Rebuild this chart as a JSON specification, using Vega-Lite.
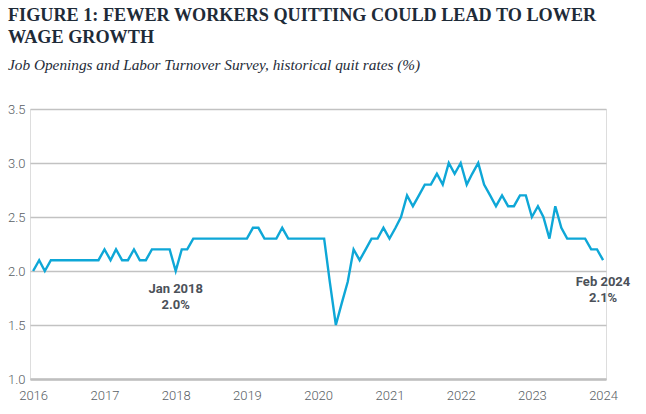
{
  "$schema": "https://vega.github.io/schema/vega-lite/v6.json",
  "width": 576,
  "height": 270,
  "autosize": "none",
  "padding": {"left": 30, "top": 109, "right": 40, "bottom": 35},
  "background": "white",
  "title": {
    "text": ["FIGURE 1: FEWER WORKERS QUITTING COULD LEAD TO LOWER", "WAGE GROWTH"],
    "subtitle": "Job Openings and Labor Turnover Survey, historical quit rates (%)",
    "anchor": "start",
    "frame": "group",
    "dx": -22,
    "offset": 29,
    "font": "Liberation Serif",
    "fontSize": 18.2,
    "fontWeight": "bold",
    "lineHeight": 21.5,
    "color": "#1e2b38",
    "subtitleFont": "Liberation Serif",
    "subtitleFontSize": 15.3,
    "subtitleFontStyle": "italic",
    "subtitleColor": "#1e2b38",
    "subtitlePadding": 11
  },
  "datasets": {
    "quits": [
      {"date": "2016-01-01", "rate": 2.0}, {"date": "2016-02-01", "rate": 2.1}, {"date": "2016-03-01", "rate": 2.0},
      {"date": "2016-04-01", "rate": 2.1}, {"date": "2016-05-01", "rate": 2.1}, {"date": "2016-06-01", "rate": 2.1},
      {"date": "2016-07-01", "rate": 2.1}, {"date": "2016-08-01", "rate": 2.1}, {"date": "2016-09-01", "rate": 2.1},
      {"date": "2016-10-01", "rate": 2.1}, {"date": "2016-11-01", "rate": 2.1}, {"date": "2016-12-01", "rate": 2.1},
      {"date": "2017-01-01", "rate": 2.2}, {"date": "2017-02-01", "rate": 2.1}, {"date": "2017-03-01", "rate": 2.2},
      {"date": "2017-04-01", "rate": 2.1}, {"date": "2017-05-01", "rate": 2.1}, {"date": "2017-06-01", "rate": 2.2},
      {"date": "2017-07-01", "rate": 2.1}, {"date": "2017-08-01", "rate": 2.1}, {"date": "2017-09-01", "rate": 2.2},
      {"date": "2017-10-01", "rate": 2.2}, {"date": "2017-11-01", "rate": 2.2}, {"date": "2017-12-01", "rate": 2.2},
      {"date": "2018-01-01", "rate": 2.0}, {"date": "2018-02-01", "rate": 2.2}, {"date": "2018-03-01", "rate": 2.2},
      {"date": "2018-04-01", "rate": 2.3}, {"date": "2018-05-01", "rate": 2.3}, {"date": "2018-06-01", "rate": 2.3},
      {"date": "2018-07-01", "rate": 2.3}, {"date": "2018-08-01", "rate": 2.3}, {"date": "2018-09-01", "rate": 2.3},
      {"date": "2018-10-01", "rate": 2.3}, {"date": "2018-11-01", "rate": 2.3}, {"date": "2018-12-01", "rate": 2.3},
      {"date": "2019-01-01", "rate": 2.3}, {"date": "2019-02-01", "rate": 2.4}, {"date": "2019-03-01", "rate": 2.4},
      {"date": "2019-04-01", "rate": 2.3}, {"date": "2019-05-01", "rate": 2.3}, {"date": "2019-06-01", "rate": 2.3},
      {"date": "2019-07-01", "rate": 2.4}, {"date": "2019-08-01", "rate": 2.3}, {"date": "2019-09-01", "rate": 2.3},
      {"date": "2019-10-01", "rate": 2.3}, {"date": "2019-11-01", "rate": 2.3}, {"date": "2019-12-01", "rate": 2.3},
      {"date": "2020-01-01", "rate": 2.3}, {"date": "2020-02-01", "rate": 2.3}, {"date": "2020-03-01", "rate": 1.9},
      {"date": "2020-04-01", "rate": 1.5}, {"date": "2020-05-01", "rate": 1.7}, {"date": "2020-06-01", "rate": 1.9},
      {"date": "2020-07-01", "rate": 2.2}, {"date": "2020-08-01", "rate": 2.1}, {"date": "2020-09-01", "rate": 2.2},
      {"date": "2020-10-01", "rate": 2.3}, {"date": "2020-11-01", "rate": 2.3}, {"date": "2020-12-01", "rate": 2.4},
      {"date": "2021-01-01", "rate": 2.3}, {"date": "2021-02-01", "rate": 2.4}, {"date": "2021-03-01", "rate": 2.5},
      {"date": "2021-04-01", "rate": 2.7}, {"date": "2021-05-01", "rate": 2.6}, {"date": "2021-06-01", "rate": 2.7},
      {"date": "2021-07-01", "rate": 2.8}, {"date": "2021-08-01", "rate": 2.8}, {"date": "2021-09-01", "rate": 2.9},
      {"date": "2021-10-01", "rate": 2.8}, {"date": "2021-11-01", "rate": 3.0}, {"date": "2021-12-01", "rate": 2.9},
      {"date": "2022-01-01", "rate": 3.0}, {"date": "2022-02-01", "rate": 2.8}, {"date": "2022-03-01", "rate": 2.9},
      {"date": "2022-04-01", "rate": 3.0}, {"date": "2022-05-01", "rate": 2.8}, {"date": "2022-06-01", "rate": 2.7},
      {"date": "2022-07-01", "rate": 2.6}, {"date": "2022-08-01", "rate": 2.7}, {"date": "2022-09-01", "rate": 2.6},
      {"date": "2022-10-01", "rate": 2.6}, {"date": "2022-11-01", "rate": 2.7}, {"date": "2022-12-01", "rate": 2.7},
      {"date": "2023-01-01", "rate": 2.5}, {"date": "2023-02-01", "rate": 2.6}, {"date": "2023-03-01", "rate": 2.5},
      {"date": "2023-04-01", "rate": 2.3}, {"date": "2023-05-01", "rate": 2.6}, {"date": "2023-06-01", "rate": 2.4},
      {"date": "2023-07-01", "rate": 2.3}, {"date": "2023-08-01", "rate": 2.3}, {"date": "2023-09-01", "rate": 2.3},
      {"date": "2023-10-01", "rate": 2.3}, {"date": "2023-11-01", "rate": 2.2}, {"date": "2023-12-01", "rate": 2.2},
      {"date": "2024-01-01", "rate": 2.1}
    ],
    "notes": [
      {"date": "2018-01-01", "rate": 2.0, "label": "Jan 2018\n2.0%", "which": "a"},
      {"date": "2024-01-01", "rate": 2.1, "label": "Feb 2024\n2.1%", "which": "b"}
    ]
  },
  "encoding": {
    "x": {
      "field": "date",
      "type": "temporal",
      "scale": {"type": "utc", "domain": ["2015-12-16", "2024-01-16"]},
      "axis": {
        "title": null,
        "format": "%Y",
        "tickCount": {"interval": "year", "step": 1},
        "grid": false,
        "ticks": false,
        "domain": true,
        "domainColor": "#bfbfbf",
        "domainWidth": 2.5,
        "labelFont": "Roboto",
        "labelFontSize": 13,
        "labelFontWeight": 300,
        "labelColor": "#585e64",
        "labelPadding": 10,
        "labelFlush": false
      }
    },
    "y": {
      "field": "rate",
      "type": "quantitative",
      "scale": {"domain": [1, 3.5], "zero": false, "nice": false},
      "axis": {
        "title": null,
        "values": [1, 1.5, 2, 2.5, 3, 3.5],
        "format": ".1f",
        "grid": true,
        "gridColor": "#c2c2c2",
        "gridWidth": 1.3,
        "ticks": false,
        "domain": false,
        "labelFont": "Roboto",
        "labelFontSize": 13,
        "labelFontWeight": 300,
        "labelColor": "#585e64",
        "labelPadding": 5
      }
    }
  },
  "layer": [
    {
      "data": {"name": "quits"},
      "mark": {"type": "line", "color": "#0ea7d7", "strokeWidth": 2.4, "strokeJoin": "miter", "clip": false}
    },
    {
      "data": {"name": "notes"},
      "transform": [{"filter": "datum.which === 'a'"}],
      "mark": {"type": "text", "font": "Roboto", "fontSize": 13, "fontWeight": "bold", "color": "#4b5159", "baseline": "top", "align": "center", "lineBreak": "\n", "lineHeight": 16, "dy": 12},
      "encoding": {"text": {"field": "label"}}
    },
    {
      "data": {"name": "notes"},
      "transform": [{"filter": "datum.which === 'b'"}],
      "mark": {"type": "text", "font": "Roboto", "fontSize": 13, "fontWeight": "bold", "color": "#4b5159", "baseline": "top", "align": "center", "lineBreak": "\n", "lineHeight": 16, "dy": 16},
      "encoding": {"text": {"field": "label"}}
    }
  ]
}
